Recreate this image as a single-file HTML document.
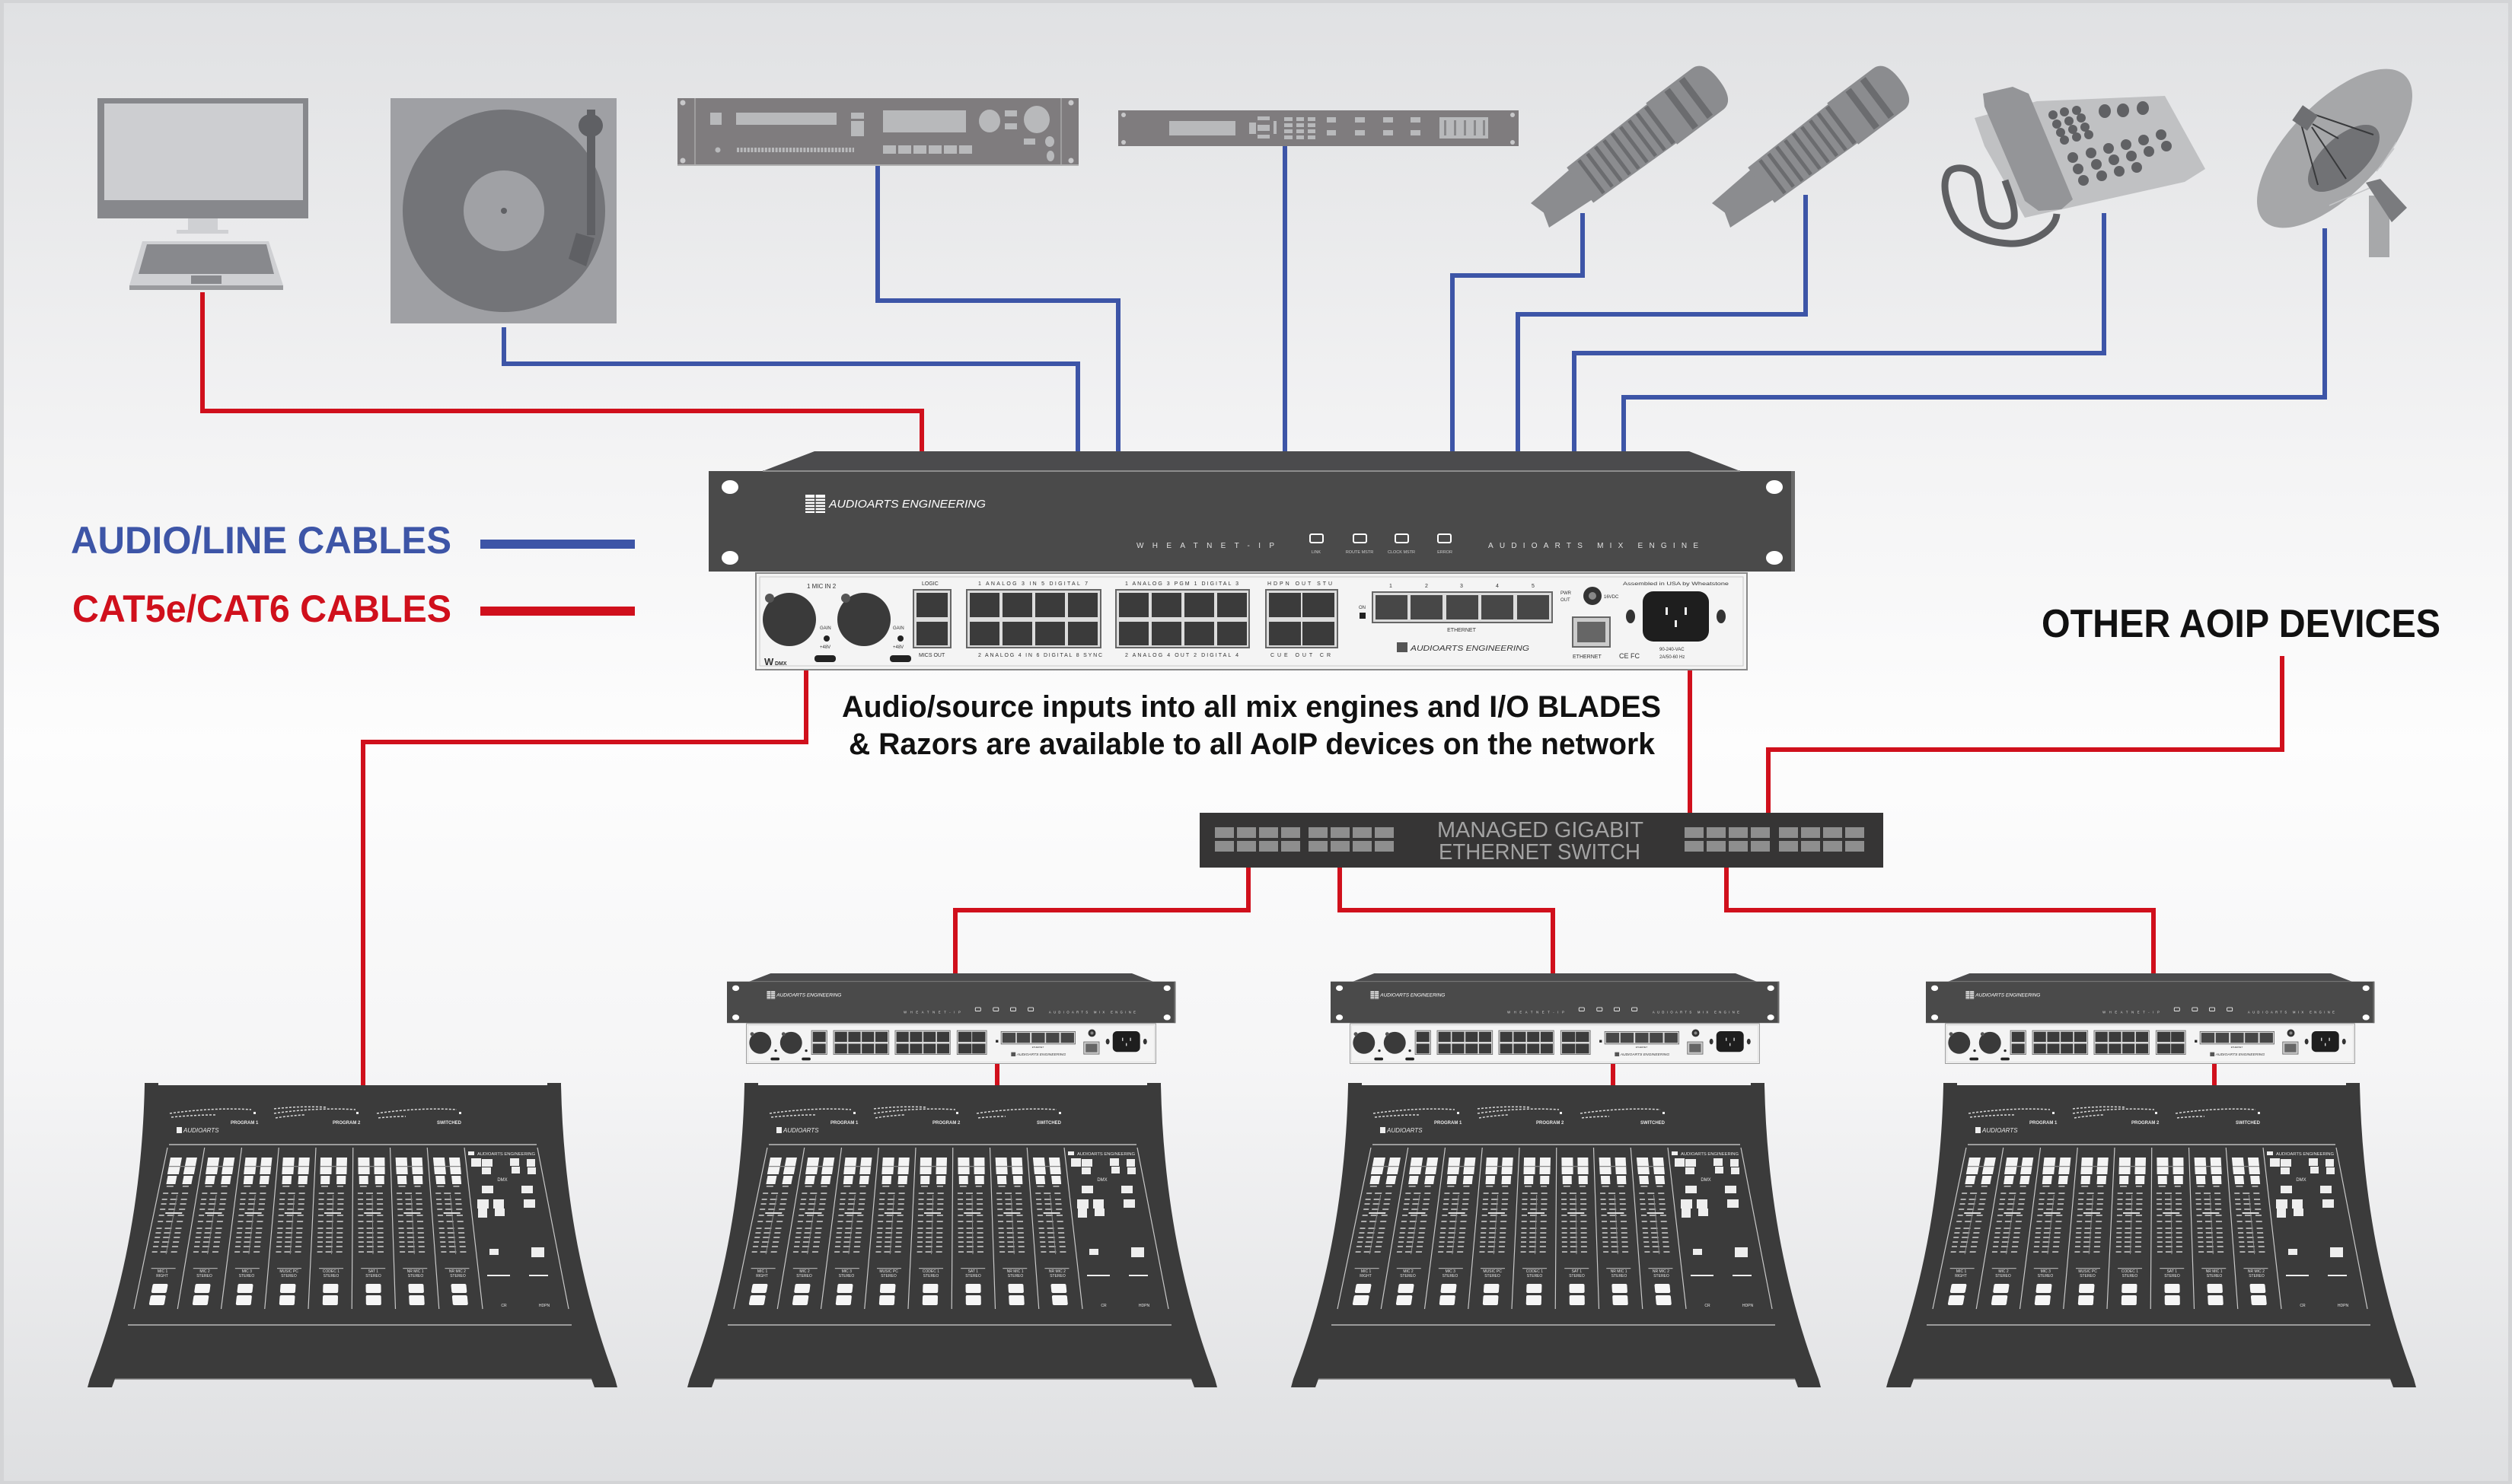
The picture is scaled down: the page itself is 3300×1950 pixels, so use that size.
<!DOCTYPE html>
<html><head><meta charset="utf-8"><style>
html,body{margin:0;padding:0;width:3300px;height:1950px;overflow:hidden;background:#d3d4d6;}
svg{display:block;}
</style></head><body>
<svg width="3300" height="1950" viewBox="0 0 3300 1950" xmlns="http://www.w3.org/2000/svg" font-family="'Liberation Sans', Arial, sans-serif">
<defs>
<linearGradient id="bg" x1="0" y1="0" x2="0" y2="1">
 <stop offset="0" stop-color="#e0e1e3"/>
 <stop offset="0.3" stop-color="#f3f3f4"/>
 <stop offset="0.5" stop-color="#fdfdfd"/>
 <stop offset="0.72" stop-color="#f5f5f6"/>
 <stop offset="1" stop-color="#dedfe1"/>
</linearGradient>

<g id="rack">
 <polygon points="139,0 1288,0 1355,26 71,26" fill="#4b4b4d"/>
 <rect x="0" y="26" width="1427" height="132" fill="#4a4a4a"/>
 <line x1="71" y1="26" x2="1355" y2="26" stroke="#8d8d8d" stroke-width="2"/>
 <rect x="1422" y="26" width="5" height="132" fill="#6a6a6a"/>
 <ellipse cx="28" cy="47" rx="11" ry="9" fill="#fff"/>
 <ellipse cx="28" cy="140" rx="11" ry="9" fill="#fff"/>
 <ellipse cx="1400" cy="47" rx="11" ry="9" fill="#fff"/>
 <ellipse cx="1400" cy="140" rx="11" ry="9" fill="#fff"/>
 <rect x="127" y="57" width="26" height="24" fill="#fff"/>
 <g fill="#4a4a4a"><rect x="127" y="61" width="26" height="1.6"/><rect x="127" y="65" width="26" height="1.6"/><rect x="127" y="69" width="26" height="1.6"/><rect x="127" y="73" width="26" height="1.6"/><rect x="127" y="77" width="26" height="1.6"/><rect x="139" y="57" width="1.6" height="24"/></g>
 <g fill="none" stroke="#fff" stroke-width="2"><rect x="790" y="109" width="17" height="11" rx="2"/><rect x="847" y="109" width="17" height="11" rx="2"/><rect x="902" y="109" width="17" height="11" rx="2"/><rect x="958" y="109" width="17" height="11" rx="2"/></g>
 <rect x="62" y="160" width="1302" height="127" fill="#f4f4f4" stroke="#888" stroke-width="2"/>
 <rect x="67" y="165" width="1292" height="117" fill="none" stroke="#c9c9c9" stroke-width="1"/>
 <circle cx="106" cy="221" r="35" fill="#3a3a3a"/>
 <circle cx="204" cy="221" r="35" fill="#3a3a3a"/>
 <circle cx="80" cy="193" r="6" fill="#555"/><circle cx="180" cy="193" r="6" fill="#555"/>
 <circle cx="155" cy="246" r="4" fill="#222"/><circle cx="252" cy="246" r="4" fill="#222"/>
 <rect x="139" y="268" width="28" height="9" rx="4" fill="#222"/><rect x="238" y="268" width="28" height="9" rx="4" fill="#222"/>
 <g stroke="#666" stroke-width="2" fill="#dcdcdc">
  <rect x="269" y="182" width="49" height="76"/>
  <rect x="339" y="182" width="176" height="76"/>
  <rect x="535" y="182" width="175" height="76"/>
  <rect x="732" y="182" width="94" height="76"/>
  <rect x="872" y="185" width="236" height="40"/>
  <rect x="1135" y="218" width="49" height="39" fill="#ccc"/>
 </g>
 <g fill="#3b3b3b">
  <rect x="273" y="186" width="41" height="32"/><rect x="273" y="224" width="41" height="31"/>
  <rect x="343" y="186" width="39" height="32"/><rect x="386" y="186" width="39" height="32"/><rect x="429" y="186" width="39" height="32"/><rect x="472" y="186" width="39" height="32"/>
  <rect x="343" y="224" width="39" height="31"/><rect x="386" y="224" width="39" height="31"/><rect x="429" y="224" width="39" height="31"/><rect x="472" y="224" width="39" height="31"/>
  <rect x="539" y="186" width="39" height="32"/><rect x="582" y="186" width="39" height="32"/><rect x="625" y="186" width="39" height="32"/><rect x="668" y="186" width="39" height="32"/>
  <rect x="539" y="224" width="39" height="31"/><rect x="582" y="224" width="39" height="31"/><rect x="625" y="224" width="39" height="31"/><rect x="668" y="224" width="39" height="31"/>
  <rect x="736" y="186" width="42" height="32"/><rect x="780" y="186" width="42" height="32"/>
  <rect x="736" y="224" width="42" height="31"/><rect x="780" y="224" width="42" height="31"/>
 </g>
 <g fill="#474747"><rect x="876" y="189" width="42" height="32"/><rect x="922" y="189" width="42" height="32"/><rect x="969" y="189" width="42" height="32"/><rect x="1015" y="189" width="42" height="32"/><rect x="1062" y="189" width="42" height="32"/></g>
 <rect x="1141" y="224" width="37" height="27" fill="#666"/>
 <rect x="855" y="212" width="8" height="8" fill="#222"/>
 <circle cx="1161" cy="190" r="12" fill="#333"/><circle cx="1161" cy="190" r="5" fill="#888"/>
 <ellipse cx="1211" cy="217" rx="6" ry="9" fill="#333"/><ellipse cx="1330" cy="217" rx="6" ry="9" fill="#333"/>
 <rect x="1227" y="184" width="87" height="66" rx="14" fill="#1e1e1e"/>
 <rect x="1257" y="205" width="3" height="10" fill="#eee"/><rect x="1282" y="205" width="3" height="10" fill="#eee"/><rect x="1269" y="222" width="3" height="9" fill="#eee"/>
 <rect x="904" y="251" width="14" height="13" fill="#555"/>
</g>

<g id="ch">
 <rect x="-18" y="13" width="15" height="22" fill="#f3f3f3"/>
 <rect x="3" y="13" width="14" height="22" fill="#f3f3f3"/>
 <rect x="-18" y="24" width="35" height="1.2" fill="#8a8a8a"/>
 <rect x="-17" y="37" width="12" height="11" fill="#f3f3f3"/>
 <rect x="4" y="37" width="12" height="11" fill="#f3f3f3"/>
 <rect x="-16" y="50" width="9" height="1.6" fill="#bbb"/><rect x="5" y="50" width="8" height="1.6" fill="#bbb"/>
 <path d="M-19,60h7M-8,60h9M6,60h8M-19,68h7M-8,68h9M6,68h8M-19,74h7M-8,74h9M6,74h8M-19,81h7M-8,81h9M6,81h8M-19,89h7M-8,89h9M6,89h8M-19,97h7M-8,97h9M6,97h8M-19,106h7M-8,106h9M6,106h8M-19,112h7M-8,112h9M6,112h8M-19,118h7M-8,118h9M6,118h8M-19,124h7M-8,124h9M6,124h8M-19,130h7M-8,130h9M6,130h8M-19,137h7M-8,137h9M6,137h8" stroke="#d2d2d2" stroke-width="1.5" fill="none"/>
 <line x1="0" y1="62" x2="0" y2="140" stroke="#8a8a8a" stroke-width="1"/>
 <rect x="-11" y="85" width="22" height="2" fill="#e0e0e0"/>
 <rect x="-16" y="158" width="32" height="1.2" fill="#aaa"/>
 <rect x="-10" y="179" width="20" height="12" rx="2" fill="#f6f6f6"/>
 <rect x="-10" y="194" width="20" height="13" rx="2" fill="#f6f6f6"/>
</g>

<g id="cons">
 <path d="M190,1426 L737,1426 C740,1560 762,1690 808,1812 L811,1823 L781,1823 L777,1812 L151,1812 L147,1823 L115,1823 L118,1812 C165,1690 187,1560 190,1426 Z" fill="#3b3b3b"/>
 <rect x="190" y="1423" width="18" height="5" fill="#3b3b3b"/><rect x="719" y="1423" width="18" height="5" fill="#3b3b3b"/>
 <line x1="222" y1="1504" x2="705" y2="1504" stroke="#bdbdbd" stroke-width="1.5"/>
 <line x1="168" y1="1741" x2="751" y2="1741" stroke="#9a9a9a" stroke-width="2"/>
 <line x1="151" y1="1812" x2="777" y2="1812" stroke="#7d7d7d" stroke-width="1.5"/>
 <path d="M220,1508L176,1720M268.75,1508L233.25,1720M317.5,1508L290.5,1720M366.25,1508L347.75,1720M415,1508L405,1720M463.75,1508L462.25,1720M512.5,1508L519.5,1720M561.25,1508L576.75,1720M610,1508L634,1720M706,1508L747,1720" stroke="#c8c8c8" stroke-width="1.2" fill="none"/>
 <use href="#ch" transform="translate(244.4,1508) skewX(-10.63)"/>
 <use href="#ch" transform="translate(293.2,1508) skewX(-8.40)"/>
 <use href="#ch" transform="translate(341.9,1508) skewX(-6.14)"/>
 <use href="#ch" transform="translate(390.7,1508) skewX(-3.86)"/>
 <use href="#ch" transform="translate(439.4,1508) skewX(-1.57)"/>
 <use href="#ch" transform="translate(488.2,1508) skewX(0.73)"/>
 <use href="#ch" transform="translate(536.9,1508) skewX(3.02)"/>
 <use href="#ch" transform="translate(585.7,1508) skewX(5.31)"/>
 <g stroke="#d8d8d8" stroke-width="1.5" fill="none" stroke-dasharray="3 2">
  <path d="M223,1463 Q280,1455 330,1458"/><path d="M225,1468 Q255,1465 283,1465"/>
  <path d="M360,1463 Q415,1455 467,1458"/><path d="M360,1457 Q395,1453 430,1455"/><path d="M362,1469 Q380,1466 400,1465"/>
  <path d="M495,1463 Q550,1455 600,1458"/><path d="M497,1469 Q515,1467 533,1467"/>
 </g>
 <g fill="#eee">
  <rect x="333" y="1461" width="3" height="3"/><rect x="468" y="1461" width="3" height="3"/><rect x="603" y="1461" width="3" height="3"/>
  <rect x="232" y="1481" width="7" height="8"/>
  <rect x="615" y="1513" width="8" height="5"/>
  <rect x="619" y="1522" width="13" height="11"/><rect x="633" y="1523" width="14" height="10"/><rect x="670" y="1522" width="12" height="10"/><rect x="692" y="1523" width="11" height="10"/>
  <rect x="633" y="1534" width="12" height="9"/><rect x="672" y="1533" width="11" height="9"/><rect x="693" y="1534" width="11" height="9"/>
  <rect x="633" y="1558" width="15" height="10"/><rect x="685" y="1558" width="15" height="10"/>
  <rect x="627" y="1576" width="15" height="12"/><rect x="648" y="1576" width="14" height="12"/><rect x="688" y="1576" width="15" height="11"/>
  <rect x="628" y="1588" width="12" height="12"/><rect x="650" y="1588" width="13" height="10"/>
  <rect x="643" y="1641" width="12" height="8"/><rect x="698" y="1639" width="17" height="13"/>
  <rect x="640" y="1675" width="30" height="2"/><rect x="695" y="1675" width="25" height="2"/>
 </g>
</g>
</defs>

<rect x="0" y="0" width="3300" height="1950" fill="#d3d4d6"/>
<rect x="5" y="4" width="3290" height="1942" fill="url(#bg)"/>

<g fill="none" stroke-width="6" stroke-linejoin="miter" stroke-linecap="butt">
 <g stroke="#3d55a7">
  <path d="M662,430 V478 H1416 V594"/>
  <path d="M1153,218 V395 H1469 V594"/>
  <path d="M1688,192 V594"/>
  <path d="M2079,280 V362 H1908 V594"/>
  <path d="M2372,256 V413 H1994 V594"/>
  <path d="M2764,280 V464 H2068 V594"/>
  <path d="M3054,300 V522 H2133 V594"/>
 </g>
 <g stroke="#d0101c">
  <path d="M266,384 V540 H1211 V594"/>
  <path d="M1059,878 V975 H477 V1428"/>
  <path d="M2220,878 V1069"/>
  <path d="M2998,862 V985 H2323 V1069"/>
  <path d="M1640,1139 V1196 H1255 V1281"/>
  <path d="M1760,1139 V1196 H2040 V1281"/>
  <path d="M2268,1139 V1196 H2829 V1281"/>
  <path d="M1310,1398 V1428"/>
  <path d="M2119,1398 V1428"/>
  <path d="M2909,1398 V1428"/>
 </g>
</g>

<rect x="128" y="129" width="277" height="158" fill="#87888c"/>
<rect x="137" y="136" width="261" height="127" fill="#cdced1"/>
<rect x="247" y="287" width="39" height="15" fill="#cfd0d3"/>
<rect x="232" y="302" width="68" height="5" fill="#cfd0d3"/>
<polygon points="187,317 353,317 372,375 170,375" fill="#cfd0d3"/>
<rect x="170" y="375" width="202" height="6" fill="#9a9b9e"/>
<polygon points="193,321 350,321 360,360 182,360" fill="#88898d"/>
<rect x="251" y="362" width="40" height="11" fill="#88898d"/>

<rect x="513" y="129" width="297" height="296" fill="#9fa0a4"/>
<circle cx="662" cy="277" r="133" fill="#737478"/>
<circle cx="662" cy="277" r="53" fill="#a0a1a5"/>
<circle cx="662" cy="277" r="4" fill="#5f6064"/>
<rect x="771" y="144" width="11" height="165" fill="#5f6064"/>
<ellipse cx="776" cy="165" rx="16" ry="15" fill="#5f6064"/>
<polygon points="757,306 781,313 770,350 747,340" fill="#5f6064"/>

<rect x="890" y="129" width="527" height="89" fill="#7f7c7e"/>
<rect x="890" y="216" width="527" height="2" fill="#b0b0b0"/>
<line x1="913" y1="129" x2="913" y2="216" stroke="#a8a8a8" stroke-width="1.5"/>
<line x1="1394" y1="129" x2="1394" y2="216" stroke="#a8a8a8" stroke-width="1.5"/>
<g fill="#c8c8ca"><circle cx="897" cy="135" r="3.5"/><circle cx="897" cy="211" r="3.5"/><circle cx="1407" cy="135" r="3.5"/><circle cx="1407" cy="211" r="3.5"/></g>
<g fill="#b8b9bb">
 <rect x="933" y="148" width="15" height="16"/>
 <rect x="967" y="148" width="132" height="16"/>
 <rect x="1118" y="148" width="17" height="8"/>
 <rect x="1118" y="159" width="17" height="20"/>
 <rect x="1160" y="145" width="109" height="29"/>
 <ellipse cx="1300" cy="159" rx="14" ry="15"/>
 <rect x="1320" y="145" width="16" height="8"/>
 <rect x="1320" y="162" width="16" height="8"/>
 <ellipse cx="1362" cy="157" rx="17" ry="18"/>
 <circle cx="943" cy="197" r="3.5"/>
 <rect x="1160" y="191" width="17" height="11"/><rect x="1180" y="191" width="17" height="11"/><rect x="1200" y="191" width="17" height="11"/><rect x="1220" y="191" width="17" height="11"/><rect x="1240" y="191" width="17" height="11"/><rect x="1260" y="191" width="17" height="11"/>
 <rect x="1345" y="182" width="15" height="8"/>
 <ellipse cx="1379" cy="186" rx="6" ry="7"/>
 <ellipse cx="1380" cy="205" rx="5" ry="7"/>
</g>
<line x1="968" y1="197" x2="1122" y2="197" stroke="#b8b9bb" stroke-width="6" stroke-dasharray="3 1.6"/>

<rect x="1469" y="145" width="526" height="47" fill="#7f7c7e"/>
<g fill="#c8c8ca"><circle cx="1476" cy="151" r="3"/><circle cx="1476" cy="187" r="3"/><circle cx="1987" cy="151" r="3"/><circle cx="1987" cy="187" r="3"/></g>
<g fill="#b8b9bb">
 <rect x="1536" y="159" width="87" height="19"/>
 <rect x="1641" y="161" width="9" height="15"/>
 <rect x="1652" y="153" width="16" height="5"/><rect x="1652" y="164" width="16" height="8"/><rect x="1652" y="177" width="16" height="5"/>
 <rect x="1673" y="159" width="4" height="17"/>
 <rect x="1687" y="154" width="11" height="5"/><rect x="1703" y="154" width="10" height="5"/><rect x="1718" y="154" width="10" height="5"/>
 <rect x="1687" y="162" width="11" height="5"/><rect x="1703" y="162" width="10" height="5"/><rect x="1718" y="162" width="10" height="5"/>
 <rect x="1687" y="170" width="11" height="5"/><rect x="1703" y="170" width="10" height="5"/><rect x="1718" y="170" width="10" height="5"/>
 <rect x="1687" y="178" width="11" height="5"/><rect x="1703" y="178" width="10" height="5"/><rect x="1718" y="178" width="10" height="5"/>
 <rect x="1743" y="154" width="12" height="7"/><rect x="1780" y="154" width="13" height="7"/><rect x="1817" y="154" width="13" height="7"/><rect x="1853" y="154" width="13" height="7"/>
 <rect x="1743" y="171" width="12" height="7"/><rect x="1780" y="171" width="13" height="7"/><rect x="1817" y="171" width="13" height="7"/><rect x="1853" y="171" width="13" height="7"/>
 <rect x="1891" y="154" width="64" height="28"/>
</g>
<g fill="#8a8a8c"><rect x="1897" y="158" width="3" height="20"/><rect x="1910" y="158" width="3" height="20"/><rect x="1923" y="158" width="3" height="20"/><rect x="1936" y="158" width="3" height="20"/><rect x="1948" y="158" width="3" height="20"/></g>

<g transform="translate(2023,283) rotate(-37)">
 <polygon points="0,-20 72,-25 72,25 0,20 6,0" fill="#8b8c8f"/>
 <polygon points="66,-29 202,-32 202,32 66,29" fill="#8b8c8f"/>
 <path d="M200,-34 L275,-34 Q295,-34 295,0 Q295,34 275,34 L200,34 Z" fill="#8b8c8f"/>
 <g fill="#6b6c6f">
  <rect x="82" y="-27" width="5" height="54"/><rect x="96" y="-27" width="5" height="54"/><rect x="110" y="-28" width="5" height="56"/><rect x="124" y="-28" width="5" height="56"/><rect x="138" y="-29" width="5" height="58"/><rect x="152" y="-29" width="5" height="58"/><rect x="166" y="-29" width="5" height="58"/><rect x="180" y="-30" width="5" height="60"/>
  <rect x="194" y="-30" width="6" height="60"/>
  <rect x="228" y="-31" width="9" height="62"/><rect x="252" y="-31" width="9" height="62"/>
 </g>
</g>
<g transform="translate(2261,283) rotate(-37)">
 <polygon points="0,-20 72,-25 72,25 0,20 6,0" fill="#8b8c8f"/>
 <polygon points="66,-29 202,-32 202,32 66,29" fill="#8b8c8f"/>
 <path d="M200,-34 L275,-34 Q295,-34 295,0 Q295,34 275,34 L200,34 Z" fill="#8b8c8f"/>
 <g fill="#6b6c6f">
  <rect x="82" y="-27" width="5" height="54"/><rect x="96" y="-27" width="5" height="54"/><rect x="110" y="-28" width="5" height="56"/><rect x="124" y="-28" width="5" height="56"/><rect x="138" y="-29" width="5" height="58"/><rect x="152" y="-29" width="5" height="58"/><rect x="166" y="-29" width="5" height="58"/><rect x="180" y="-30" width="5" height="60"/>
  <rect x="194" y="-30" width="6" height="60"/>
  <rect x="228" y="-31" width="9" height="62"/><rect x="252" y="-31" width="9" height="62"/>
 </g>
</g>

<polygon points="2594,155 2676,133 2844,126 2897,222 2870,239 2660,286 2607,192" fill="#c0c1c3"/>
<path d="M2702,281 C2700,305 2665,322 2639,320 C2605,318 2580,305 2570,291 C2556,268 2550,240 2560,226 C2568,217 2590,220 2597,232 C2604,250 2600,275 2612,290 C2622,300 2644,300 2646,287 C2648,270 2638,250 2634,237" fill="none" stroke="#5f6063" stroke-width="9"/>
<path d="M2605,123 L2644,114 L2665,123 L2723,262 L2708,275 L2678,277 L2660,264 L2607,140 Z" fill="#949598"/>
<g fill="#606164">
 <circle cx="2697" cy="151" r="6"/><circle cx="2712" cy="147" r="6"/><circle cx="2728" cy="145" r="6"/>
 <circle cx="2702" cy="163" r="6"/><circle cx="2718" cy="159" r="6"/><circle cx="2734" cy="155" r="6"/>
 <circle cx="2707" cy="174" r="6"/><circle cx="2723" cy="170" r="6"/><circle cx="2739" cy="167" r="6"/>
 <circle cx="2712" cy="184" r="6"/><circle cx="2728" cy="180" r="6"/><circle cx="2744" cy="177" r="6"/>
 <ellipse cx="2765" cy="146" rx="8" ry="9"/><ellipse cx="2789" cy="145" rx="8" ry="9"/><ellipse cx="2815" cy="142" rx="8" ry="9"/>
 <circle cx="2723" cy="207" r="7"/><circle cx="2747" cy="201" r="7"/><circle cx="2770" cy="195" r="7"/><circle cx="2793" cy="190" r="7"/><circle cx="2816" cy="184" r="7"/><circle cx="2839" cy="177" r="7"/>
 <circle cx="2730" cy="222" r="7"/><circle cx="2754" cy="216" r="7"/><circle cx="2777" cy="210" r="7"/><circle cx="2800" cy="205" r="7"/><circle cx="2823" cy="199" r="7"/><circle cx="2846" cy="192" r="7"/>
 <circle cx="2737" cy="237" r="7"/><circle cx="2761" cy="231" r="7"/><circle cx="2784" cy="225" r="7"/><circle cx="2807" cy="220" r="7"/>
</g>

<!-- satellite dish -->
<rect x="3112" y="257" width="27" height="81" fill="#a7a8aa"/>
<ellipse cx="3067" cy="195" rx="133" ry="60" transform="rotate(-46 3067 195)" fill="#a6a7a9"/>
<g stroke="#c4c5c7" stroke-width="1.5"><line x1="3060" y1="270" x2="3113" y2="247"/><line x1="3127" y1="220" x2="3148" y2="187"/><line x1="3122" y1="225" x2="3145" y2="195"/></g>
<ellipse cx="3079" cy="208" rx="58" ry="28" transform="rotate(-42 3079 208)" fill="#717275"/>
<polygon points="3108,240 3127,235 3162,273 3142,292" fill="#7a7b7e"/>
<g stroke="#38393b" stroke-width="2"><line x1="3033" y1="148" x2="3118" y2="177"/><line x1="3023" y1="163" x2="3045" y2="243"/><line x1="3037" y1="167" x2="3082" y2="235"/><line x1="3038" y1="163" x2="3072" y2="182"/></g>
<rect x="3016" y="143" width="24" height="24" transform="rotate(35 3028 155)" fill="#6e6f72"/>

<g font-weight="bold" font-size="50">
 <text x="93" y="727" fill="#3d55a7" textLength="500" lengthAdjust="spacingAndGlyphs">AUDIO/LINE CABLES</text>
 <text x="95" y="817" fill="#d0101c" textLength="498" lengthAdjust="spacingAndGlyphs">CAT5e/CAT6 CABLES</text>
</g>
<rect x="631" y="709" width="203" height="12" fill="#3d55a7"/>
<rect x="631" y="797" width="203" height="12" fill="#d0101c"/>

<use href="#rack" transform="translate(931,593)"/>
<g transform="translate(931,593)">
 <g font-style="italic" fill="#fff"><text x="158" y="74" font-size="15" textLength="206" lengthAdjust="spacingAndGlyphs">AUDIOARTS ENGINEERING</text></g>
 <text x="562" y="127" font-size="10" fill="#e0e0e0" textLength="181" lengthAdjust="spacing">WHEATNET-IP</text>
 <text x="1024" y="127" font-size="10" fill="#e0e0e0" textLength="276" lengthAdjust="spacing">AUDIOARTS MIX ENGINE</text>
 <g font-size="5.5" fill="#ccc" text-anchor="middle"><text x="798" y="134">LINK</text><text x="855" y="134">ROUTE MSTR</text><text x="910" y="134">CLOCK MSTR</text><text x="967" y="134">ERROR</text></g>
 <g fill="#333" font-size="7">
  <text x="129" y="180" font-size="8">1 MIC IN 2</text>
  <text x="146" y="234" font-size="6">GAIN</text><text x="242" y="234" font-size="6">GAIN</text>
  <text x="146" y="259" font-size="6">+48V</text><text x="242" y="259" font-size="6">+48V</text>
  <text x="280" y="176">LOGIC</text>
  <text x="354" y="176" textLength="144" lengthAdjust="spacing">1 ANALOG 3 IN 5 DIGITAL 7</text>
  <text x="547" y="176" textLength="149" lengthAdjust="spacing">1 ANALOG 3 PGM 1 DIGITAL 3</text>
  <text x="734" y="176" textLength="85" lengthAdjust="spacing">HDPN OUT STU</text>
  <text x="276" y="270">MICS OUT</text>
  <text x="354" y="270" textLength="163" lengthAdjust="spacing">2 ANALOG 4 IN 6 DIGITAL 8 SYNC</text>
  <text x="547" y="270" textLength="149" lengthAdjust="spacing">2 ANALOG 4 OUT 2 DIGITAL 4</text>
  <text x="738" y="270" textLength="79" lengthAdjust="spacing">CUE OUT CR</text>
  <text x="854" y="207" font-size="6">ON</text>
  <g text-anchor="middle"><text x="896" y="179">1</text><text x="943" y="179">2</text><text x="989" y="179">3</text><text x="1036" y="179">4</text><text x="1083" y="179">5</text><text x="989" y="237">ETHERNET</text></g>
  <text x="922" y="262" font-size="10" font-style="italic" textLength="156" lengthAdjust="spacingAndGlyphs">AUDIOARTS ENGINEERING</text>
  <text x="1119" y="188" font-size="6">PWR</text><text x="1119" y="197" font-size="6">OUT</text>
  <text x="1176" y="193" font-size="6">16VDC</text>
  <text x="1135" y="272">ETHERNET</text>
  <text x="1196" y="272" font-size="9">CE FC</text>
  <text x="1249" y="262" font-size="6">90-240-VAC</text><text x="1249" y="272" font-size="6">2A/50-60 Hz</text>
  <text x="1201" y="176" font-size="6" textLength="139" lengthAdjust="spacingAndGlyphs">Assembled in USA by Wheatstone</text>
  <text x="73" y="281" font-size="13" font-weight="bold">W</text><text x="87" y="281" font-size="7" font-weight="bold">DMX</text>
 </g>
</g>

<g font-weight="bold" font-size="40" fill="#111">
 <text x="1106" y="942" textLength="1076" lengthAdjust="spacingAndGlyphs">Audio/source inputs into all mix engines and I/O BLADES</text>
 <text x="1115" y="991" textLength="1059" lengthAdjust="spacingAndGlyphs">&amp; Razors are available to all AoIP devices on the network</text>
</g>
<text x="2682" y="837" font-weight="bold" font-size="52" fill="#111" textLength="524" lengthAdjust="spacingAndGlyphs">OTHER AOIP DEVICES</text>

<rect x="1576" y="1068" width="898" height="72" fill="#363535"/>
<g fill="#8e8e8e">
 <rect x="1596" y="1087" width="25" height="14"/><rect x="1625" y="1087" width="25" height="14"/><rect x="1654" y="1087" width="25" height="14"/><rect x="1683" y="1087" width="25" height="14"/>
 <rect x="1719" y="1087" width="25" height="14"/><rect x="1748" y="1087" width="25" height="14"/><rect x="1777" y="1087" width="25" height="14"/><rect x="1806" y="1087" width="25" height="14"/>
 <rect x="1596" y="1105" width="25" height="14"/><rect x="1625" y="1105" width="25" height="14"/><rect x="1654" y="1105" width="25" height="14"/><rect x="1683" y="1105" width="25" height="14"/>
 <rect x="1719" y="1105" width="25" height="14"/><rect x="1748" y="1105" width="25" height="14"/><rect x="1777" y="1105" width="25" height="14"/><rect x="1806" y="1105" width="25" height="14"/>
 <rect x="2213" y="1087" width="25" height="14"/><rect x="2242" y="1087" width="25" height="14"/><rect x="2271" y="1087" width="25" height="14"/><rect x="2300" y="1087" width="25" height="14"/>
 <rect x="2337" y="1087" width="25" height="14"/><rect x="2366" y="1087" width="25" height="14"/><rect x="2395" y="1087" width="25" height="14"/><rect x="2424" y="1087" width="25" height="14"/>
 <rect x="2213" y="1105" width="25" height="14"/><rect x="2242" y="1105" width="25" height="14"/><rect x="2271" y="1105" width="25" height="14"/><rect x="2300" y="1105" width="25" height="14"/>
 <rect x="2337" y="1105" width="25" height="14"/><rect x="2366" y="1105" width="25" height="14"/><rect x="2395" y="1105" width="25" height="14"/><rect x="2424" y="1105" width="25" height="14"/>
</g>
<g font-size="29" fill="#a3a3a3">
 <text x="1888" y="1100" textLength="271" lengthAdjust="spacingAndGlyphs">MANAGED GIGABIT</text>
 <text x="1890" y="1129" textLength="265" lengthAdjust="spacingAndGlyphs">ETHERNET SWITCH</text>
</g>

<use href="#rack" transform="translate(955,1279) scale(0.413)"/>
<use href="#rack" transform="translate(1748,1279) scale(0.413)"/>
<use href="#rack" transform="translate(2530,1279) scale(0.413)"/>
<g transform="translate(955,1279) scale(0.413)">
 <text x="158" y="74" font-size="15" font-style="italic" fill="#fff" textLength="206" lengthAdjust="spacingAndGlyphs">AUDIOARTS ENGINEERING</text>
 <text x="562" y="127" font-size="10" fill="#e0e0e0" textLength="181" lengthAdjust="spacing">WHEATNET-IP</text>
 <text x="1024" y="127" font-size="10" fill="#e0e0e0" textLength="276" lengthAdjust="spacing">AUDIOARTS MIX ENGINE</text>
 <text x="989" y="237" font-size="7" fill="#333" text-anchor="middle">ETHERNET</text>
 <text x="922" y="262" font-size="10" font-style="italic" fill="#333" textLength="156" lengthAdjust="spacingAndGlyphs">AUDIOARTS ENGINEERING</text>
</g>
<g transform="translate(1748,1279) scale(0.413)">
 <text x="158" y="74" font-size="15" font-style="italic" fill="#fff" textLength="206" lengthAdjust="spacingAndGlyphs">AUDIOARTS ENGINEERING</text>
 <text x="562" y="127" font-size="10" fill="#e0e0e0" textLength="181" lengthAdjust="spacing">WHEATNET-IP</text>
 <text x="1024" y="127" font-size="10" fill="#e0e0e0" textLength="276" lengthAdjust="spacing">AUDIOARTS MIX ENGINE</text>
 <text x="989" y="237" font-size="7" fill="#333" text-anchor="middle">ETHERNET</text>
 <text x="922" y="262" font-size="10" font-style="italic" fill="#333" textLength="156" lengthAdjust="spacingAndGlyphs">AUDIOARTS ENGINEERING</text>
</g>
<g transform="translate(2530,1279) scale(0.413)">
 <text x="158" y="74" font-size="15" font-style="italic" fill="#fff" textLength="206" lengthAdjust="spacingAndGlyphs">AUDIOARTS ENGINEERING</text>
 <text x="562" y="127" font-size="10" fill="#e0e0e0" textLength="181" lengthAdjust="spacing">WHEATNET-IP</text>
 <text x="1024" y="127" font-size="10" fill="#e0e0e0" textLength="276" lengthAdjust="spacing">AUDIOARTS MIX ENGINE</text>
 <text x="989" y="237" font-size="7" fill="#333" text-anchor="middle">ETHERNET</text>
 <text x="922" y="262" font-size="10" font-style="italic" fill="#333" textLength="156" lengthAdjust="spacingAndGlyphs">AUDIOARTS ENGINEERING</text>
</g>

<use href="#cons"/>
<use href="#cons" transform="translate(788,0)"/>
<use href="#cons" transform="translate(1581,0)"/>
<use href="#cons" transform="translate(2363,0)"/>

<g fill="#e6e6e6">
 <g>
  <g font-size="6" font-weight="bold"><text x="303" y="1477">PROGRAM 1</text><text x="437" y="1477">PROGRAM 2</text><text x="574" y="1477">SWITCHED</text></g>
  <text x="241" y="1488" font-size="8" font-style="italic">AUDIOARTS</text>
  <text x="627" y="1518" font-size="5" textLength="76" lengthAdjust="spacingAndGlyphs">AUDIOARTS ENGINEERING</text>
  <text x="660" y="1552" font-size="6" text-anchor="middle">DMX</text>
  <g font-size="5" text-anchor="middle"><text x="213.6" y="1672">MIC 1</text><text x="213" y="1678">RIGHT</text><text x="269" y="1672">MIC 2</text><text x="268.5" y="1678">STEREO</text><text x="324.3" y="1672">MIC 3</text><text x="324" y="1678">STEREO</text><text x="379.6" y="1672">MUSIC PC</text><text x="379.5" y="1678">STEREO</text><text x="434.9" y="1672">CODEC 1</text><text x="435" y="1678">STEREO</text><text x="490.3" y="1672">SAT 1</text><text x="490.5" y="1678">STEREO</text><text x="545.6" y="1672">NR MIC 1</text><text x="546" y="1678">STEREO</text><text x="600.9" y="1672">NR MIC 2</text><text x="601.5" y="1678">STEREO</text><text x="662" y="1717">CR</text><text x="715" y="1717">HDPN</text></g>
 </g>
 <g transform="translate(788,0)">
  <g font-size="6" font-weight="bold"><text x="303" y="1477">PROGRAM 1</text><text x="437" y="1477">PROGRAM 2</text><text x="574" y="1477">SWITCHED</text></g>
  <text x="241" y="1488" font-size="8" font-style="italic">AUDIOARTS</text>
  <text x="627" y="1518" font-size="5" textLength="76" lengthAdjust="spacingAndGlyphs">AUDIOARTS ENGINEERING</text>
  <text x="660" y="1552" font-size="6" text-anchor="middle">DMX</text>
  <g font-size="5" text-anchor="middle"><text x="213.6" y="1672">MIC 1</text><text x="213" y="1678">RIGHT</text><text x="269" y="1672">MIC 2</text><text x="268.5" y="1678">STEREO</text><text x="324.3" y="1672">MIC 3</text><text x="324" y="1678">STEREO</text><text x="379.6" y="1672">MUSIC PC</text><text x="379.5" y="1678">STEREO</text><text x="434.9" y="1672">CODEC 1</text><text x="435" y="1678">STEREO</text><text x="490.3" y="1672">SAT 1</text><text x="490.5" y="1678">STEREO</text><text x="545.6" y="1672">NR MIC 1</text><text x="546" y="1678">STEREO</text><text x="600.9" y="1672">NR MIC 2</text><text x="601.5" y="1678">STEREO</text><text x="662" y="1717">CR</text><text x="715" y="1717">HDPN</text></g>
 </g>
 <g transform="translate(1581,0)">
  <g font-size="6" font-weight="bold"><text x="303" y="1477">PROGRAM 1</text><text x="437" y="1477">PROGRAM 2</text><text x="574" y="1477">SWITCHED</text></g>
  <text x="241" y="1488" font-size="8" font-style="italic">AUDIOARTS</text>
  <text x="627" y="1518" font-size="5" textLength="76" lengthAdjust="spacingAndGlyphs">AUDIOARTS ENGINEERING</text>
  <text x="660" y="1552" font-size="6" text-anchor="middle">DMX</text>
  <g font-size="5" text-anchor="middle"><text x="213.6" y="1672">MIC 1</text><text x="213" y="1678">RIGHT</text><text x="269" y="1672">MIC 2</text><text x="268.5" y="1678">STEREO</text><text x="324.3" y="1672">MIC 3</text><text x="324" y="1678">STEREO</text><text x="379.6" y="1672">MUSIC PC</text><text x="379.5" y="1678">STEREO</text><text x="434.9" y="1672">CODEC 1</text><text x="435" y="1678">STEREO</text><text x="490.3" y="1672">SAT 1</text><text x="490.5" y="1678">STEREO</text><text x="545.6" y="1672">NR MIC 1</text><text x="546" y="1678">STEREO</text><text x="600.9" y="1672">NR MIC 2</text><text x="601.5" y="1678">STEREO</text><text x="662" y="1717">CR</text><text x="715" y="1717">HDPN</text></g>
 </g>
 <g transform="translate(2363,0)">
  <g font-size="6" font-weight="bold"><text x="303" y="1477">PROGRAM 1</text><text x="437" y="1477">PROGRAM 2</text><text x="574" y="1477">SWITCHED</text></g>
  <text x="241" y="1488" font-size="8" font-style="italic">AUDIOARTS</text>
  <text x="627" y="1518" font-size="5" textLength="76" lengthAdjust="spacingAndGlyphs">AUDIOARTS ENGINEERING</text>
  <text x="660" y="1552" font-size="6" text-anchor="middle">DMX</text>
  <g font-size="5" text-anchor="middle"><text x="213.6" y="1672">MIC 1</text><text x="213" y="1678">RIGHT</text><text x="269" y="1672">MIC 2</text><text x="268.5" y="1678">STEREO</text><text x="324.3" y="1672">MIC 3</text><text x="324" y="1678">STEREO</text><text x="379.6" y="1672">MUSIC PC</text><text x="379.5" y="1678">STEREO</text><text x="434.9" y="1672">CODEC 1</text><text x="435" y="1678">STEREO</text><text x="490.3" y="1672">SAT 1</text><text x="490.5" y="1678">STEREO</text><text x="545.6" y="1672">NR MIC 1</text><text x="546" y="1678">STEREO</text><text x="600.9" y="1672">NR MIC 2</text><text x="601.5" y="1678">STEREO</text><text x="662" y="1717">CR</text><text x="715" y="1717">HDPN</text></g>
 </g>
</g>
</svg>
</body></html>
